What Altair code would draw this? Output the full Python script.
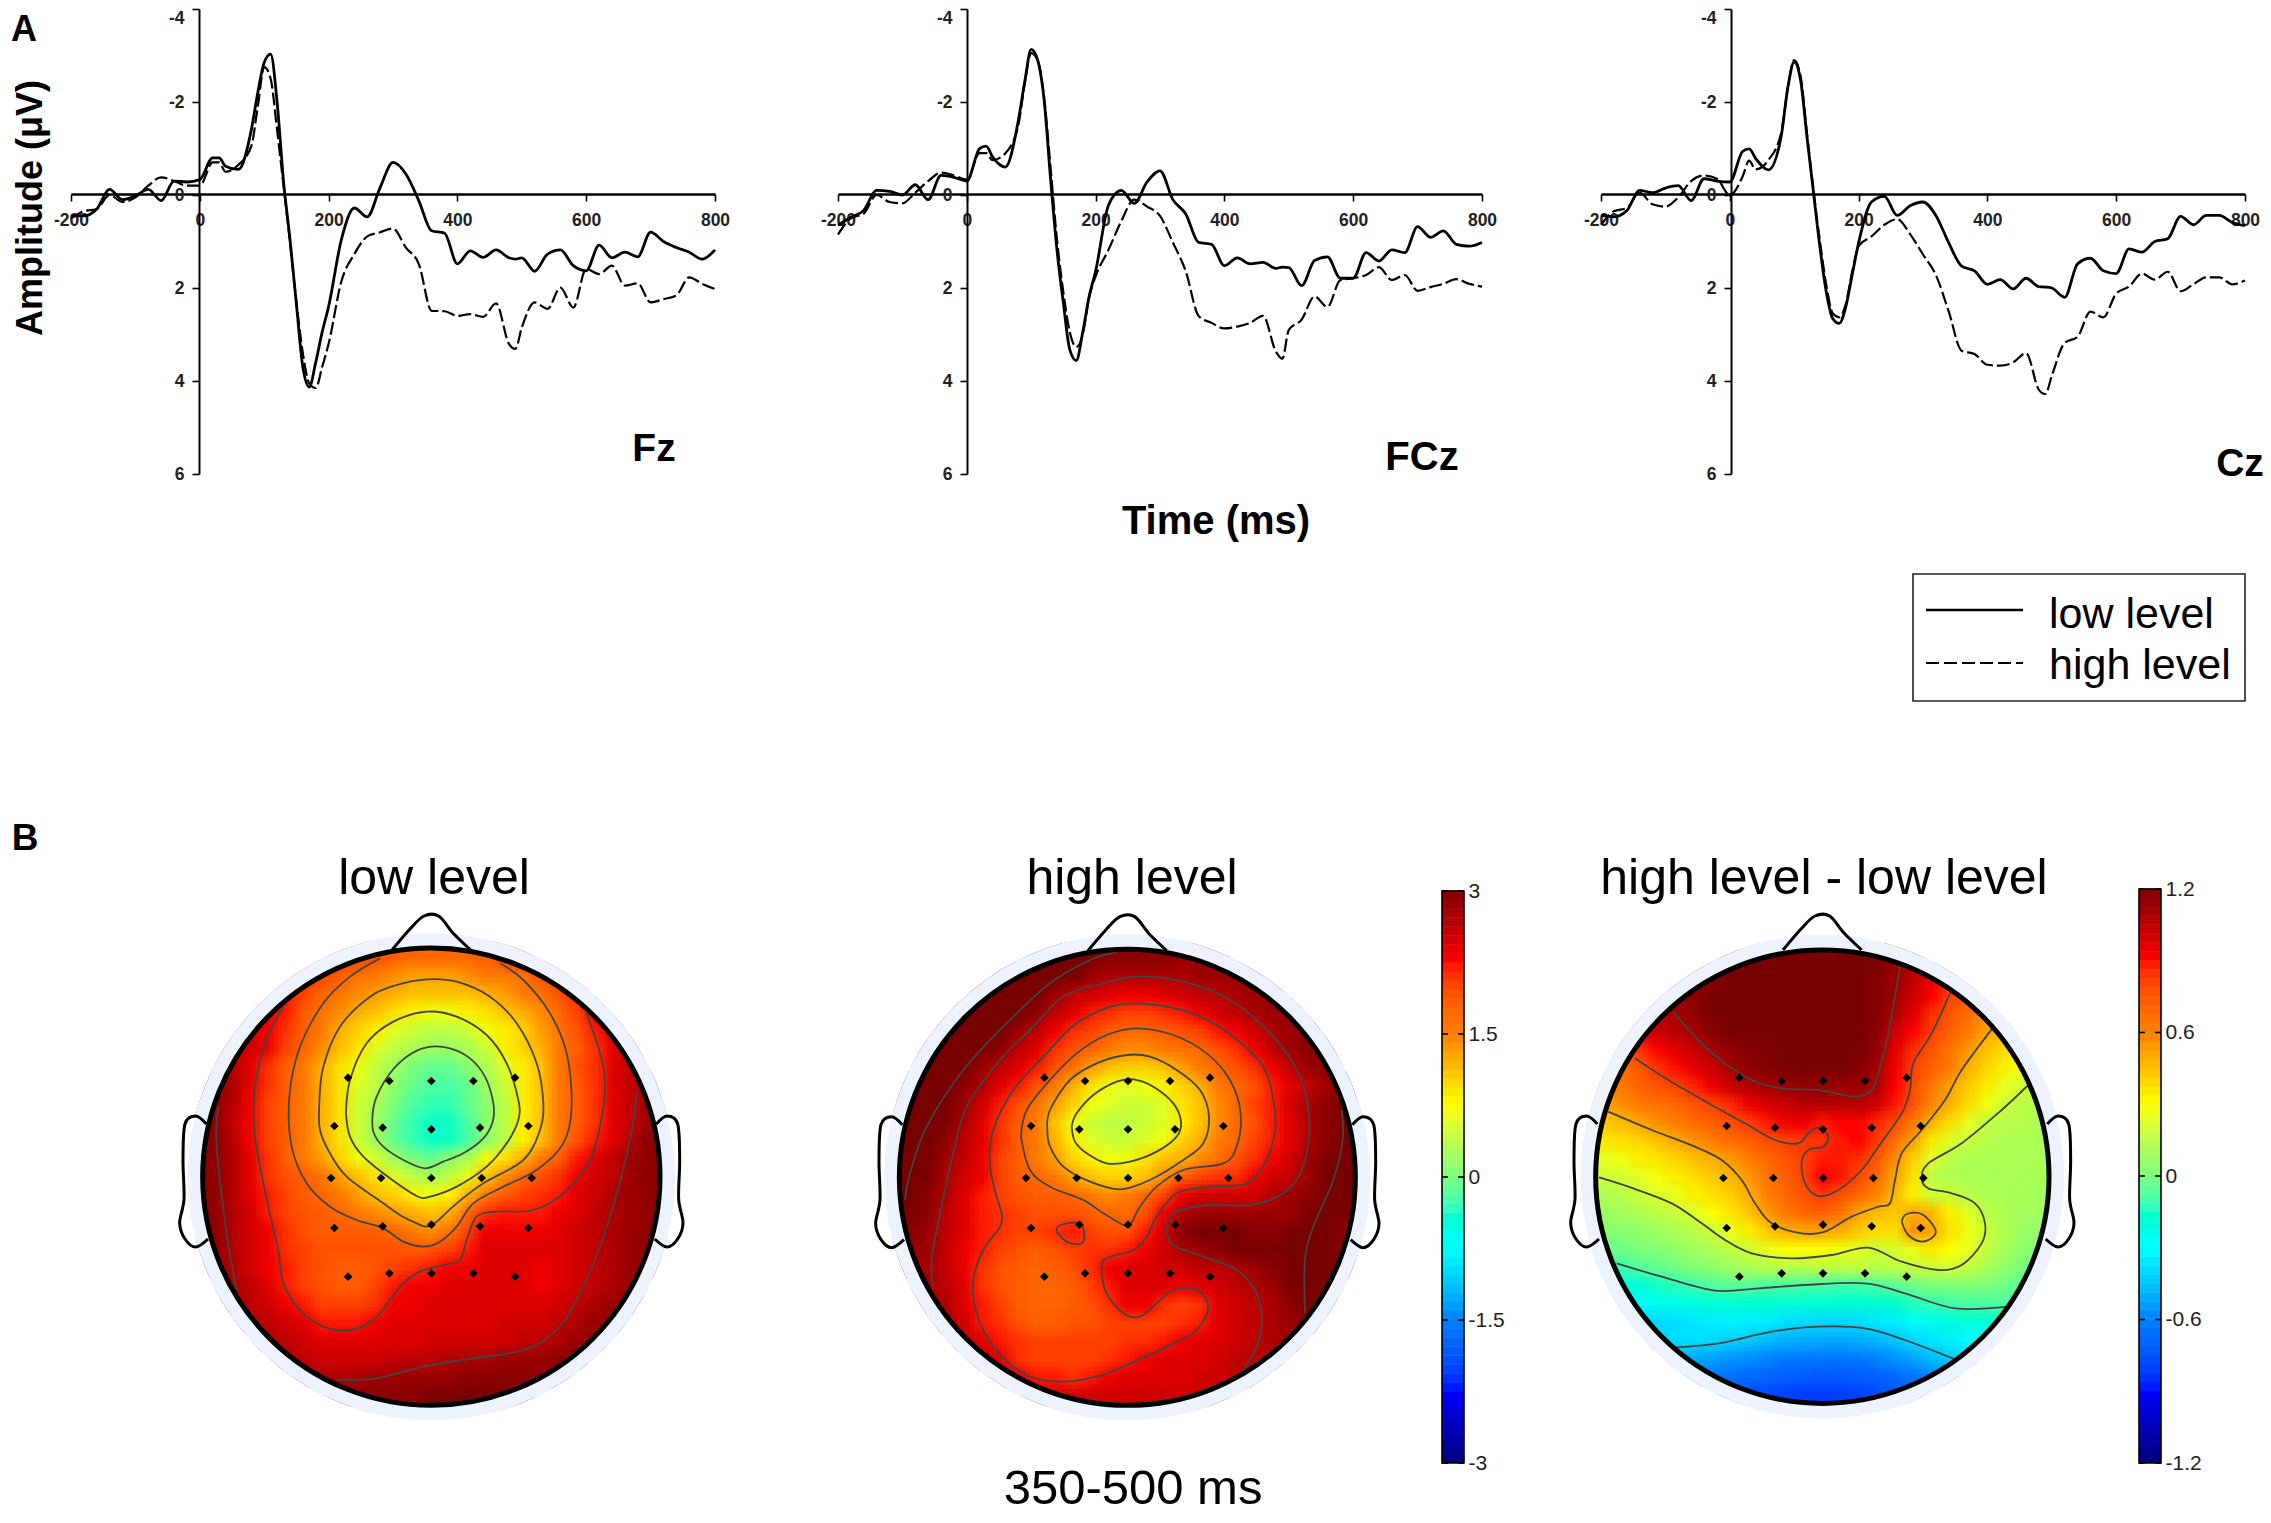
"""ERP waveforms at Fz, FCz, Cz and scalp maps for the 350-500 ms window."""

import altair as alt
import pandas as pd

alt.data_transformers.disable_max_rows()

FONT = "Liberation Sans"
WIDTH, HEIGHT = 2255, 1507

# ---- waveforms: amplitude in uV at these times (ms) ----
TIMES = [-200, -180, -160, -140, -120, -100, -80, -60, -40, -20, 0,
         20, 30, 40, 60, 80,
         90, 100, 110, 120, 130, 140, 150, 160, 170, 180, 190, 200,
         220, 240, 260, 280, 300, 320, 340, 360, 380, 400, 420, 440, 460, 480,
         490,
         500, 520, 540, 560, 580, 600, 620, 640, 660, 680, 700, 720, 740, 760, 780, 800]

FZ_LOW = [.45, .45, .3, -.12, .1, .02, -.12, .12, -.3, -.28, -.33,
          -.8, -.8, -.62, -.55, -1.4,
          -2.2, -2.85, -3.03, -2.0, -.3, .95, 2.35, 3.7, 4.13, 3.6, 2.95, 2.4,
          .95, .28, .47, -.16, -.7, -.45, .12, .77, .82, 1.48, 1.2, 1.34, 1.18, 1.35,
          1.38,
          1.35, 1.64, 1.27, 1.18, 1.52, 1.63, 1.08, 1.35, 1.23, 1.33, .8, 1.0, 1.13, 1.23, 1.38, 1.18]
FZ_HIGH = [.5, .35, .3, 0, .15, .05, -.2, -.38, -.3, -.2, -.2,
           -.7, -.7, -.5, -.65, -1.05,
           -1.9, -2.75, -2.5, -1.4, -.2, 1.0, 2.3, 3.4, 4.05, 4.15, 3.7, 3.2,
           1.85, 1.27, .89, .8, .72, 1.13, 1.48, 2.49, 2.5, 2.6, 2.56, 2.62, 2.33, 3.2,
           3.31,
           2.85, 2.31, 2.45, 1.99, 2.42, 1.59, 1.7, 1.52, 1.95, 1.9, 2.31, 2.24, 2.16, 1.77, 1.91, 2.02]
FCZ_LOW = [.65, .48, .33, -.1, -.08, 0, -.22, .1, -.42, -.38, -.3,
           -1.0, -1.05, -.82, -.6, -1.6,
           -2.44, -3.13, -2.9, -2.05, -.36, 1.18, 2.33, 3.33, 3.56, 2.95, 2.18, 1.64,
           .22, -.1, .18, -.28, -.52, .1, .41, 1.02, 1.06, 1.52, 1.35, 1.48, 1.45, 1.58,
           1.55,
           1.56, 1.95, 1.41, 1.33, 1.79, 1.79, 1.24, 1.42, 1.18, 1.24, .68, .91, .77, 1.06, 1.1, 1.02]
FCZ_HIGH = [.85, .5, .4, 0, .15, .18, -.05, -.3, -.48, -.42, -.33,
            -.9, -.9, -.75, -.9, -1.5,
            -2.4, -3.05, -2.9, -2.1, -.6, .95, 2.1, 2.95, 3.27, 3.0, 2.2, 1.75,
            1.18, .56, .1, .25, .45, 1.02, 1.64, 2.6, 2.75, 2.87, 2.83, 2.75, 2.6, 3.37,
            3.52,
            2.9, 2.68, 2.18, 2.41, 1.83, 1.79, 1.72, 1.55, 1.83, 1.72, 2.06, 1.98, 1.91, 1.81, 1.91, 1.97]
CZ_LOW = [.44, .47, .34, -.1, -.05, -.15, -.2, .12, -.35, -.3, -.28,
          -.94, -.99, -.79, -.54, -1.28,
          -2.3, -2.86, -2.46, -1.23, -.05, 1.13, 2.1, 2.66, 2.76, 2.41, 1.72, 1.03,
          .15, .03, .44, .23, .15, .44, 1.03, 1.53, 1.63, 1.92, 1.82, 2.02, 1.79, 1.97,
          1.98,
          2.0, 2.2, 1.48, 1.36, 1.63, 1.69, 1.16, 1.23, 1.0, .94, .46, .64, .44, .44, .59, .66]
CZ_HIGH = [.64, .35, .28, -.05, .2, .25, .05, -.3, -.42, -.35, 0,
           -.4, -.74, -.55, -.75, -1.35,
           -2.3, -2.9, -2.55, -1.3, -.1, 1.0, 1.95, 2.55, 2.63, 2.35, 1.65, 1.1,
           .89, .64, .52, .84, 1.28, 1.72, 2.51, 3.35, 3.42, 3.65, 3.67, 3.6, 3.4, 4.19,
           4.28,
           3.89, 3.18, 3.05, 2.51, 2.63, 2.12, 1.97, 1.69, 1.82, 1.65, 2.07, 1.92, 1.77, 1.77, 1.92, 1.84]

# ---- scalp maps: rows run front to back, shorter rows are centred on the head ----
# LOW and HIGH are in tenths of a uV, DIFF in hundredths.
LOW = [
    [21, 20, 19, 18, 17, 17, 17, 17, 18, 20, 22],
    [21, 20, 18, 16, 15, 14, 13, 13, 13, 14, 15, 15, 16, 19, 20],
    [22, 20, 17, 16, 14, 13, 12, 11, 11, 11, 11, 12, 13, 15, 16, 19, 21],
    [23, 22, 18, 16, 14, 12, 11, 9, 8, 7, 7, 8, 9, 11, 12, 14, 17, 20, 23],
    [25, 23, 21, 18, 15, 12, 10, 8, 6, 5, 4, 4, 5, 7, 8, 10, 13, 16, 19, 22, 24],
    [27, 25, 23, 20, 17, 14, 11, 9, 6, 4, 3, 2, 2, 3, 5, 8, 10, 12, 15, 18, 21, 24, 26],
    [27, 24, 21, 18, 15, 12, 9, 7, 4, 2, 0, -1, -1, 1, 3, 6, 8, 11, 15, 19, 21, 24, 26],
    [29, 27, 24, 21, 18, 15, 12, 9, 6, 4, 1, -1, -2, -2, -1, 2, 5, 8, 11, 15, 18, 21, 24, 26, 28],
    [29, 27, 23, 20, 18, 15, 12, 9, 5, 3, 0, -2, -3, -3, -1, 1, 4, 8, 11, 15, 18, 21, 24, 26, 28],
    [29, 26, 23, 20, 18, 15, 12, 9, 5, 2, -1, -3, -4, -4, -2, 1, 4, 8, 11, 15, 18, 21, 24, 26, 28],
    [29, 27, 23, 20, 18, 15, 12, 9, 5, 2, -1, -3, -4, -4, -2, 1, 4, 8, 11, 15, 19, 22, 24, 27, 29],
    [29, 27, 24, 21, 18, 15, 13, 10, 7, 5, 2, 0, -1, 1, 3, 7, 9, 12, 15, 18, 22, 24, 26, 28, 29],
    [29, 27, 24, 21, 19, 18, 16, 13, 11, 9, 6, 4, 3, 4, 7, 11, 14, 17, 19, 21, 23, 25, 26, 28, 29],
    [29, 27, 24, 22, 20, 18, 17, 15, 13, 11, 10, 8, 7, 8, 12, 15, 18, 20, 21, 22, 24, 25, 27, 28, 29],
    [29, 27, 25, 22, 20, 19, 18, 17, 15, 14, 13, 12, 11, 12, 17, 21, 22, 22, 22, 23, 24, 26, 27, 28, 29],
    [29, 27, 25, 23, 21, 19, 18, 18, 18, 18, 17, 15, 14, 16, 20, 23, 23, 23, 23, 24, 25, 26, 27, 28, 29],
    [29, 27, 25, 23, 21, 20, 19, 19, 19, 19, 19, 18, 19, 20, 22, 24, 24, 24, 24, 24, 25, 26, 27, 28, 29],
    [29, 27, 25, 23, 22, 20, 19, 18, 18, 19, 20, 21, 22, 23, 23, 24, 24, 24, 23, 24, 25, 26, 27, 28, 29],
    [27, 26, 24, 22, 20, 19, 18, 18, 20, 22, 23, 23, 24, 24, 24, 24, 24, 23, 24, 25, 26, 27, 28],
    [28, 26, 25, 23, 22, 20, 20, 20, 21, 23, 23, 24, 24, 24, 24, 24, 24, 24, 25, 26, 27, 28, 29],
    [27, 26, 25, 24, 22, 22, 22, 23, 24, 24, 24, 24, 24, 24, 25, 25, 25, 26, 27, 28, 29],
    [27, 26, 25, 24, 24, 24, 24, 24, 24, 25, 25, 25, 25, 25, 26, 26, 27, 28, 29],
    [27, 26, 25, 25, 25, 25, 26, 26, 26, 27, 27, 27, 28, 28, 28, 29, 29],
    [27, 27, 27, 27, 28, 28, 28, 28, 28, 29, 29, 29, 29, 29, 29],
    [29, 29, 29, 29, 29, 30, 30, 30, 30, 30, 30],
]
HIGH = [
    [31, 31, 30, 30, 29, 29, 29, 29, 28, 28, 27],
    [32, 32, 32, 31, 30, 28, 27, 27, 27, 27, 27, 28, 28, 28, 28],
    [32, 32, 32, 30, 28, 26, 25, 24, 23, 23, 24, 25, 26, 26, 27, 28, 28],
    [33, 33, 33, 32, 29, 26, 24, 22, 21, 20, 20, 21, 22, 23, 25, 26, 27, 28, 28],
    [33, 33, 33, 31, 28, 26, 23, 21, 20, 18, 17, 17, 18, 19, 20, 22, 23, 25, 27, 28, 29],
    [33, 33, 33, 32, 29, 26, 24, 21, 19, 17, 15, 14, 14, 15, 16, 17, 19, 21, 23, 26, 28, 29, 29],
    [33, 33, 32, 28, 26, 24, 22, 19, 16, 13, 11, 10, 10, 11, 13, 15, 17, 19, 21, 23, 26, 28, 29],
    [34, 33, 32, 29, 27, 24, 22, 19, 15, 12, 9, 7, 6, 7, 8, 10, 12, 15, 17, 19, 22, 24, 26, 28, 29],
    [33, 33, 31, 28, 25, 22, 19, 16, 13, 10, 7, 6, 5, 5, 6, 9, 11, 14, 17, 20, 22, 25, 27, 29, 30],
    [33, 32, 30, 27, 24, 21, 18, 15, 11, 7, 5, 4, 4, 5, 6, 8, 11, 14, 17, 19, 22, 24, 27, 29, 31],
    [33, 32, 29, 26, 24, 21, 18, 15, 12, 8, 6, 5, 5, 6, 7, 10, 12, 15, 17, 20, 22, 24, 27, 29, 32],
    [33, 31, 28, 26, 23, 20, 18, 15, 13, 10, 8, 7, 7, 9, 11, 12, 14, 16, 19, 21, 23, 25, 28, 30, 32],
    [32, 30, 27, 25, 23, 20, 18, 17, 15, 13, 11, 10, 10, 11, 14, 18, 20, 21, 21, 23, 25, 26, 28, 30, 31],
    [31, 29, 27, 24, 22, 20, 19, 18, 18, 17, 15, 14, 15, 17, 20, 23, 25, 25, 25, 25, 27, 28, 29, 30, 30],
    [30, 29, 26, 24, 22, 21, 20, 19, 19, 19, 18, 17, 17, 19, 23, 27, 28, 28, 28, 28, 28, 28, 30, 30, 30],
    [29, 28, 26, 24, 22, 21, 20, 20, 21, 22, 20, 19, 19, 22, 25, 29, 31, 32, 30, 29, 29, 30, 31, 30, 29],
    [28, 28, 26, 23, 22, 20, 19, 18, 19, 20, 21, 21, 22, 23, 25, 27, 28, 29, 30, 30, 31, 32, 32, 30, 29],
    [28, 27, 26, 23, 21, 19, 18, 17, 18, 19, 21, 23, 24, 24, 25, 25, 26, 26, 27, 28, 29, 31, 32, 31, 29],
    [28, 26, 24, 21, 19, 18, 17, 17, 18, 20, 22, 24, 24, 24, 23, 24, 25, 26, 27, 28, 30, 32, 30],
    [28, 27, 24, 22, 20, 18, 17, 17, 18, 19, 21, 23, 23, 21, 20, 21, 24, 25, 26, 27, 29, 31, 28],
    [27, 25, 22, 21, 19, 18, 18, 19, 19, 20, 20, 20, 20, 21, 22, 24, 25, 26, 27, 28, 29],
    [26, 24, 22, 21, 20, 20, 20, 20, 20, 21, 21, 22, 23, 24, 24, 25, 26, 27, 28],
    [26, 24, 21, 20, 20, 20, 20, 21, 22, 23, 24, 24, 24, 25, 26, 26, 27],
    [26, 24, 22, 22, 21, 22, 23, 24, 24, 24, 24, 25, 25, 26, 26],
    [25, 25, 25, 25, 25, 25, 25, 25, 25, 25, 26],
]
DIFF = [
    [120, 120, 120, 120, 120, 120, 120, 120, 120, 115, 105],
    [115, 118, 120, 120, 120, 120, 120, 120, 120, 120, 118, 112, 104, 95, 84],
    [112, 116, 120, 120, 120, 120, 120, 120, 120, 120, 120, 118, 112, 100, 90, 80, 72],
    [105, 110, 115, 120, 120, 120, 120, 120, 120, 120, 120, 120, 118, 108, 96, 85, 74, 66, 56],
    [96, 102, 106, 110, 117, 120, 120, 120, 120, 120, 120, 120, 120, 116, 100, 90, 80, 70, 60, 52, 44],
    [78, 84, 90, 96, 103, 110, 114, 117, 119, 120, 120, 120, 120, 120, 114, 96, 84, 74, 64, 54, 44, 38, 30],
    [64, 74, 84, 89, 95, 102, 110, 115, 118, 120, 120, 120, 120, 118, 110, 92, 80, 70, 60, 48, 40, 32, 27],
    [58, 62, 70, 76, 80, 87, 94, 102, 108, 110, 112, 114, 114, 112, 112, 108, 90, 77, 62, 52, 42, 34, 26, 20, 16],
    [52, 56, 60, 64, 69, 75, 80, 86, 92, 98, 102, 106, 106, 106, 106, 100, 88, 76, 58, 48, 38, 28, 20, 16, 14],
    [42, 46, 51, 56, 61, 67, 72, 77, 82, 88, 92, 92, 88, 90, 90, 86, 78, 60, 48, 38, 26, 17, 15, 14, 13],
    [35, 37, 40, 45, 50, 55, 60, 66, 72, 77, 80, 82, 84, 88, 90, 82, 65, 52, 34, 24, 18, 15, 13, 12, 12],
    [26, 28, 32, 36, 40, 45, 49, 54, 61, 68, 75, 81, 87, 88, 84, 74, 56, 40, 24, 15, 13, 12, 12, 12, 12],
    [19, 21, 25, 29, 33, 38, 42, 47, 54, 63, 72, 80, 90, 88, 78, 66, 50, 36, 16, 13, 12, 12, 12, 12, 11],
    [13, 15, 19, 23, 27, 32, 37, 41, 49, 59, 68, 76, 82, 76, 68, 58, 46, 32, 20, 20, 15, 13, 12, 11, 10],
    [8, 10, 13, 16, 19, 24, 30, 35, 43, 53, 62, 68, 70, 64, 51, 45, 42, 49, 47, 33, 24, 16, 12, 10, 9],
    [3, 4, 6, 9, 12, 16, 20, 27, 33, 42, 48, 51, 51, 48, 42, 37, 37, 55, 50, 36, 28, 20, 13, 8, 6],
    [-3, -2, 1, 3, 6, 9, 13, 17, 21, 26, 30, 30, 30, 28, 25, 20, 22, 28, 34, 30, 26, 18, 11, 5, 2],
    [-12, -10, -7, -4, -1, 2, 5, 9, 12, 14, 15, 15, 16, 16, 17, 15, 16, 18, 20, 21, 18, 12, 6, 0, -3],
    [-22, -20, -15, -13, -10, -7, -6, -7, -8, -8, -9, -9, -10, -10, -8, -5, -2, 0, 1, 1, 1, -2, -6],
    [-32, -30, -27, -24, -22, -20, -19, -19, -19, -20, -20, -20, -20, -20, -19, -17, -14, -12, -10, -8, -8, -8, -9],
    [-40, -38, -37, -35, -33, -32, -33, -34, -37, -38, -39, -39, -38, -35, -33, -29, -26, -22, -20, -19, -19],
    [-41, -38, -38, -39, -41, -43, -46, -48, -49, -50, -50, -49, -47, -44, -39, -36, -33, -30, -28],
    [-46, -50, -52, -54, -56, -58, -60, -61, -61, -61, -60, -58, -55, -51, -46, -42, -38],
    [-60, -62, -64, -66, -68, -70, -71, -72, -72, -71, -69, -66, -62, -58, -54],
    [-74, -76, -78, -79, -80, -81, -80, -79, -77, -74, -70],
]

# ---- traced contour lines, electrodes; units are thirds of a pixel of each head's crop ----
LOW_CONTOURS = [
    [(548, 520), (560, 470), (600, 400), (650, 350), (710, 322), (780, 325), (840, 355), (885, 410), (910, 490),
     (908, 545), (880, 595), (820, 640), (760, 665), (705, 685), (640, 660), (580, 620), (550, 575), (548, 520)],
    [(468, 520), (480, 420), (530, 310), (610, 245), (710, 215), (800, 230), (890, 285), (950, 370), (985, 480),
     (985, 540), (950, 610), (890, 680), (800, 740), (720, 770), (680, 768), (600, 715), (520, 650), (480, 590), (468, 520)],
    [(388, 490), (400, 380), (450, 260), (540, 170), (620, 135), (710, 118), (800, 125), (900, 170), (980, 250),
     (1040, 370), (1060, 490), (1050, 570), (1000, 660), (880, 730), (800, 790), (740, 845), (710, 860), (680, 850),
     (630, 825), (580, 790), (470, 710), (420, 640), (390, 570), (388, 490)],
    [(570, 55), (480, 110), (400, 190), (330, 320), (298, 470), (305, 620), (350, 730), (420, 800), (500, 840),
     (580, 865), (640, 905), (700, 920), (750, 905), (800, 860), (850, 790), (940, 740), (1040, 690), (1120, 610),
     (1145, 500), (1130, 340), (1080, 220), (1000, 120), (930, 70)],
    [(280, 200), (230, 300), (195, 440), (195, 590), (235, 800), (265, 930), (280, 1030), (330, 1110), (400, 1160),
     (480, 1170), (550, 1140), (600, 1080), (640, 1030), (690, 995), (760, 975), (810, 960), (830, 900), (860, 830),
     (920, 815), (1030, 810), (1120, 760), (1200, 660), (1240, 500), (1240, 380), (1190, 220)],
    [(85, 500), (80, 620), (110, 880), (140, 1050)],
    [(440, 1320), (560, 1315), (700, 1280), (850, 1255), (1000, 1230), (1100, 1170), (1180, 1040), (1260, 830),
     (1320, 600), (1340, 460)],
]
HIGH_CONTOURS = [
    [(545, 560), (560, 520), (610, 465), (680, 425), (730, 418), (790, 440), (850, 490), (873, 545), (860, 590),
     (800, 635), (720, 665), (650, 670), (590, 640), (555, 605), (545, 560)],
    [(472, 570), (480, 510), (540, 420), (620, 370), (710, 345), (780, 350), (860, 390), (930, 450), (957, 530),
     (940, 610), (880, 660), (780, 720), (690, 748), (600, 725), (520, 680), (480, 620), (472, 570)],
    [(393, 590), (410, 510), (480, 420), (560, 340), (650, 285), (740, 265), (850, 285), (950, 340), (1020, 420),
     (1052, 520), (1040, 620), (1000, 670), (880, 690), (800, 740), (750, 800), (720, 855), (700, 855), (640, 820),
     (580, 780), (480, 740), (420, 690), (393, 590)],
    [(335, 820), (300, 680), (310, 570), (370, 450), (470, 340), (560, 250), (680, 195), (800, 195), (920, 225),
     (1030, 290), (1120, 380), (1150, 480), (1155, 570), (1130, 660), (1070, 730), (960, 740), (860, 760), (800, 830),
     (770, 890), (730, 930), (650, 955), (635, 985), (650, 1060), (700, 1120), (750, 1130), (800, 1090), (850, 1050),
     (920, 1050), (955, 1100), (920, 1170), (850, 1210), (720, 1270), (620, 1310), (500, 1325), (400, 1300), (310, 1220),
     (260, 1120), (250, 1020), (280, 930), (330, 860), (335, 820)],
    [(500, 875), (510, 855), (570, 850), (583, 890), (570, 912), (530, 905), (500, 875)],
    [(130, 1040), (125, 960), (150, 820), (190, 640), (230, 500), (330, 360), (420, 270), (520, 170), (640, 130),
     (740, 110), (880, 125), (1020, 180), (1150, 290), (1230, 410), (1258, 540), (1240, 680), (1180, 760), (1080, 795),
     (960, 795), (860, 815), (830, 860), (850, 915), (940, 950), (1040, 990), (1100, 1060), (1115, 1140), (1100, 1220),
     (1060, 1290)],
    [(45, 780), (60, 700), (110, 560), (220, 390), (350, 250), (480, 130), (600, 60), (680, 38)],
    [(1245, 1120), (1245, 960), (1270, 860), (1330, 720), (1358, 600), (1355, 510)],
]
DIFF_CONTOURS = [
    [(265, 215), (340, 300), (420, 370), (500, 420), (590, 445), (700, 450), (810, 470), (860, 450), (880, 400),
     (910, 280), (945, 80)],
    [(150, 355), (250, 420), (380, 495), (480, 550), (570, 600), (640, 610), (670, 580), (700, 563), (730, 590),
     (715, 620), (670, 630), (650, 665), (660, 730), (700, 768), (760, 750), (830, 690), (880, 620), (950, 520),
     (975, 450), (985, 370), (1040, 280), (1095, 160)],
    [(70, 515), (200, 570), (330, 620), (410, 660), (470, 720), (510, 790), (560, 850), (650, 880), (720, 875),
     (800, 830), (880, 800), (915, 790), (930, 720), (950, 640), (1010, 570), (1080, 480), (1130, 390), (1222, 265)],
    [(42, 712), (130, 740), (260, 790), (350, 850), (420, 900), (500, 940), (620, 955), (740, 945), (850, 923),
     (950, 965), (1060, 990), (1130, 975), (1190, 910), (1200, 850), (1170, 790), (1100, 760), (1030, 745), (1010, 715),
     (1030, 670), (1130, 610), (1250, 510), (1330, 435)],
    [(95, 970), (230, 1010), (390, 1052), (520, 1045), (660, 1035), (840, 1030), (960, 1060), (1110, 1105), (1270, 1100)],
    [(270, 1222), (400, 1210), (560, 1175), (700, 1160), (840, 1165), (960, 1200), (1110, 1258)],
    [(950, 845), (965, 822), (1010, 822), (1050, 865), (1045, 890), (1010, 905), (970, 885), (950, 845)],
]
LOW_SITES = [(474, 413), (598, 423), (724, 423), (850, 423), (975, 413), (433, 558), (578, 563), (724, 568), (870, 563),
             (1015, 558), (423, 714), (573, 714), (724, 714), (875, 714), (1025, 714), (433, 864), (578, 859), (724, 854),
             (870, 859), (1015, 864), (474, 1010), (598, 1000), (724, 1000), (850, 1000), (975, 1010)]
HIGH_SITES = [(463, 413), (585, 423), (714, 423), (840, 423), (960, 413), (423, 558), (568, 568), (714, 568), (855, 568),
              (1000, 558), (408, 714), (560, 714), (714, 714), (865, 714), (1015, 714), (423, 864), (568, 854), (714, 854),
              (855, 854), (1000, 864), (463, 1010), (585, 1000), (714, 1000), (840, 1000), (960, 1010)]
DIFF_SITES = [(463, 413), (590, 423), (714, 423), (840, 423), (965, 413), (425, 558), (570, 563), (714, 568), (860, 563),
              (1007, 558), (415, 714), (565, 714), (714, 714), (865, 714), (1015, 714), (425, 864), (570, 859), (714, 854),
              (860, 859), (1007, 864), (463, 1010), (590, 1000), (714, 1000), (840, 1000), (965, 1010)]

# nose and ears, relative to the head centre
NOSE = [(-118, -680), (-64, -743), (-22, -782), (22, -782), (65, -731), (118, -680)]
EAR = [(675, -158), (707, -182), (739, -158), (745, -50), (742, 67), (755, 139), (739, 187), (707, 211), (670, 187)]

JET = ["#00007f", "#0000ff", "#007fff", "#00ffff", "#7fff7f", "#ffff00", "#ff7f00", "#ff0000", "#7f0000"]

# the same cells are stacked a few times, shifted a little and see-through, to soften the block edges
SHIFTS = [-0.375, -0.125, 0.125, 0.375]

HYPHEN_LABEL = "(datum.value < 0 ? '-' : '') + format(abs(datum.value), '.1~f')"


def text(label, x, y, size, weight="normal", angle=0, align="center"):
    return (
        alt.Chart(pd.DataFrame({"t": [label]}))
        .mark_text(font=FONT, fontSize=size, fontWeight=weight, angle=angle, align=align, baseline="middle", color="black")
        .encode(text="t:N", x=alt.value(x - 8), y=alt.value(y - 8))
    )


def erp_panel(low, high, x0, x1, axis_x):
    """Two waveforms; the axes cross at time 0 and amplitude 0, negative is up."""
    df = pd.DataFrame({"time": TIMES, "low": low, "high": high})
    xs = alt.Scale(domain=[-200, 800], range=[x0 - 8, x1 - 8], nice=False, zero=False)
    ys = alt.Scale(domain=[-4, 6], range=[1, 466], nice=False, zero=False)
    x_axis = alt.Axis(
        values=[-200, 0, 200, 400, 600, 800], title=None, grid=False, orient="bottom", offset=-(HEIGHT - 186),
        domainColor="black", domainWidth=2.4, tickColor="black", tickWidth=1.6, tickSize=7, labelPadding=10,
        labelFont=FONT, labelFontSize=17.5, labelFontWeight="bold", labelColor="#222222", labelFlush=False,
        labelExpr=HYPHEN_LABEL,
    )
    y_axis = alt.Axis(
        values=[-4, -2, 0, 2, 4, 6], title=None, grid=False, orient="left", offset=-(axis_x - 8),
        domainColor="black", domainWidth=2, tickColor="black", tickWidth=1.6, tickSize=7, labelPadding=8,
        labelFont=FONT, labelFontSize=17.5, labelFontWeight="bold", labelColor="#222222",
        labelExpr=HYPHEN_LABEL,
        labelBaseline={"condition": {"test": "datum.value == -4", "value": "top"}, "value": "middle"},
    )
    solid = alt.Chart(df).mark_line(color="black", strokeWidth=2.8, interpolate="monotone").encode(
        x=alt.X("time:Q", scale=xs, axis=x_axis),
        y=alt.Y("low:Q", scale=ys, axis=y_axis),
    )
    dashed = alt.Chart(df).mark_line(color="black", strokeWidth=2.2, strokeDash=[13, 4], interpolate="monotone").encode(
        x=alt.X("time:Q", scale=xs, axis=None),
        y=alt.Y("high:Q", scale=ys, axis=None),
    )
    return [dashed, solid]


def flat_lines(lines):
    rows = []
    for k, line in enumerate(lines):
        for i, (x, y) in enumerate(line):
            rows.append({"id": k, "i": i, "x": x, "y": y})
    return pd.DataFrame(rows)


def head_panel(grid, limit, contours, sites, left, top, span, cx, cy, r):
    """Scalp map in crop units; the crop starts at left/top and is span/3 px wide."""
    xs = alt.Scale(domain=[0, span], range=[left - 8, left - 8 + span / 3], nice=False, zero=False)
    ys = alt.Scale(domain=[0, 1425], range=[top - 8, top - 8 + 475], nice=False, zero=False)
    enc_x = alt.X("x:Q", scale=xs, axis=None)
    enc_y = alt.Y("y:Q", scale=ys, axis=None)
    step = r / 12.5

    cells = []
    passes = [(0, 0, 1.0, 3)]
    for sy in SHIFTS:
        for sx in SHIFTS:
            passes.append((sx, sy, 1 / (len(passes) + 1), 0))
    for sx, sy, alpha, overlap in passes:
        for j, row in enumerate(grid):
            pad = (25 - len(row)) // 2
            for i, value in enumerate(row):
                x = cx + (i + pad - 12.5 + sx) * step
                y = cy + (j - 12.5 + sy) * step
                cells.append({"x": round(x, 1), "x2": round(x + step + overlap, 1), "y": round(y, 1),
                              "y2": round(y + step + overlap, 1), "value": value, "alpha": round(alpha, 4)})
    heat = alt.Chart(pd.DataFrame(cells)).mark_rect().encode(
        x=enc_x, x2="x2:Q", y=enc_y, y2="y2:Q",
        color=alt.Color("value:Q", legend=None, scale=alt.Scale(domain=[-limit, limit], range=JET, clamp=True)),
        opacity=alt.Opacity("alpha:Q", scale=None),
    )

    centre = pd.DataFrame({"x": [cx], "y": [cy]})
    r_px = r / 3

    def ring(diameter, width, color):
        return alt.Chart(centre).mark_point(shape="circle", filled=False, color=color, strokeWidth=width, opacity=1).encode(
            x=enc_x, y=enc_y, size=alt.value(diameter ** 2),
        )

    white = ring(2 * r_px + 2 * 15 + 34, 34, "white")
    halo = ring(2 * r_px + 15, 15, "#edf3fd")
    rim = ring(2 * r_px, 5, "black")

    lines = alt.Chart(flat_lines(contours)).mark_line(color="#444444", strokeWidth=1.8, interpolate="cardinal").encode(
        x=enc_x, y=enc_y, detail="id:N", order="i:Q",
    )
    outline = [
        [(cx + x, cy + y) for x, y in NOSE],
        [(cx + x, cy + y) for x, y in EAR],
        [(cx - x, cy + y) for x, y in EAR],
    ]
    face = alt.Chart(flat_lines(outline)).mark_line(color="black", strokeWidth=3, interpolate="cardinal").encode(
        x=enc_x, y=enc_y, detail="id:N", order="i:Q",
    )
    dots = alt.Chart(pd.DataFrame(sites, columns=["x", "y"])).mark_point(
        shape="diamond", filled=True, color="black", size=75, opacity=1
    ).encode(x=enc_x, y=enc_y)
    return [heat, white, halo, lines, rim, face, dots]


def colorbar(limit, ticks, x0, x1, y0, y1):
    """64 colour steps, labels on an axis at the right of the bar."""
    step = 2 * limit / 64
    levels = pd.DataFrame({"lo": [-limit + k * step for k in range(64)]})
    levels["hi"] = levels["lo"] + step * 1.05
    levels["mid"] = levels["lo"] + step / 2
    ys = alt.Scale(domain=[-limit, limit], range=[y1 - 8, y0 - 8], nice=False, zero=False)
    bar = alt.Chart(levels).mark_rect().encode(
        x=alt.value(x0 - 8), x2=alt.value(x1 - 8),
        y=alt.Y(
            "lo:Q", scale=ys,
            axis=alt.Axis(
                values=ticks, title=None, grid=False, orient="right", offset=-(WIDTH - (x1 - 8)),
                domain=False, ticks=False, labelPadding=4, labelFont=FONT, labelFontSize=21, labelColor="#222222",
                labelExpr=HYPHEN_LABEL,
            ),
        ),
        y2="hi:Q",
        color=alt.Color("mid:Q", legend=None, scale=alt.Scale(domain=[-limit, limit], range=JET)),
    )
    frame = alt.Chart(pd.DataFrame({"t": [0]})).mark_rect(fillOpacity=0, stroke="black", strokeWidth=1.6).encode(
        x=alt.value(x0 - 8), x2=alt.value(x1 - 8), y=alt.value(y0 - 8), y2=alt.value(y1 - 8),
    )
    tick_df = pd.DataFrame({"v": ticks})
    left = alt.Chart(tick_df).mark_rule(color="black", strokeWidth=1.6).encode(
        x=alt.value(x0 - 8), x2=alt.value(x0 - 2), y=alt.Y("v:Q", scale=ys, axis=None),
    )
    right = alt.Chart(tick_df).mark_rule(color="black", strokeWidth=1.6).encode(
        x=alt.value(x1 - 14), x2=alt.value(x1 - 8), y=alt.Y("v:Q", scale=ys, axis=None),
    )
    return [bar, frame, left, right]


layers = []
layers += erp_panel(FZ_LOW, FZ_HIGH, 71, 715, 199)
layers += erp_panel(FCZ_LOW, FCZ_HIGH, 838, 1482, 967)
layers += erp_panel(CZ_LOW, CZ_HIGH, 1601, 2245, 1731)

layers += head_panel(LOW, 30, LOW_CONTOURS, LOW_SITES, 190, 940, 1440, 724, 710, 686)
layers += head_panel(HIGH, 30, HIGH_CONTOURS, HIGH_SITES, 890, 940, 1425, 712, 712, 684)
layers += head_panel(DIFF, 120, DIFF_CONTOURS, DIFF_SITES, 1585, 940, 1425, 712, 710, 680)

layers += colorbar(3, [-3, -1.5, 0, 1.5, 3], 1442, 1464, 891, 1463)
layers += colorbar(1.2, [-1.2, -0.6, 0, 0.6, 1.2], 2139, 2161, 889, 1463)

# legend box
layers.append(
    alt.Chart(pd.DataFrame({"t": [0]})).mark_rect(fillOpacity=0, stroke="#222222", strokeWidth=1.6).encode(
        x=alt.value(1913 - 8), x2=alt.value(2245 - 8), y=alt.value(574 - 8), y2=alt.value(701 - 8),
    )
)
layers.append(
    alt.Chart(pd.DataFrame({"t": [0]})).mark_rule(color="black", strokeWidth=2.6).encode(
        x=alt.value(1926 - 8), x2=alt.value(2023 - 8), y=alt.value(610 - 8),
    )
)
layers.append(
    alt.Chart(pd.DataFrame({"t": [0]})).mark_rule(color="black", strokeWidth=2, strokeDash=[13, 5]).encode(
        x=alt.value(1926 - 8), x2=alt.value(2023 - 8), y=alt.value(663 - 8),
    )
)

layers += [
    text("low level", 2049, 615, 43, align="left"),
    text("high level", 2049, 666, 43, align="left"),
    text("A", 24, 30, 36, "bold"),
    text("B", 25, 839, 37, "bold"),
    text("Amplitude (μV)", 31, 208, 36, "bold", angle=270),
    text("Time (ms)", 1216, 522, 40, "bold"),
    text("Fz", 654, 449, 39, "bold"),
    text("FCz", 1422, 458, 40, "bold"),
    text("Cz", 2240, 464, 39, "bold"),
    text("low level", 434, 879, 50),
    text("high level", 1132, 879, 50),
    text("high level - low level", 1824, 879, 50),
    text("350-500 ms", 1133, 1489, 49),
]

chart = (
    alt.layer(*layers)
    .resolve_scale(x="independent", y="independent", color="independent")
    .resolve_axis(x="independent", y="independent")
    .properties(width=WIDTH, height=HEIGHT, padding=0, autosize=alt.AutoSizeParams(type="none"))
    .configure_view(stroke=None)
)

chart.save("out.html", embed_options={"renderer": "svg", "actions": False})
